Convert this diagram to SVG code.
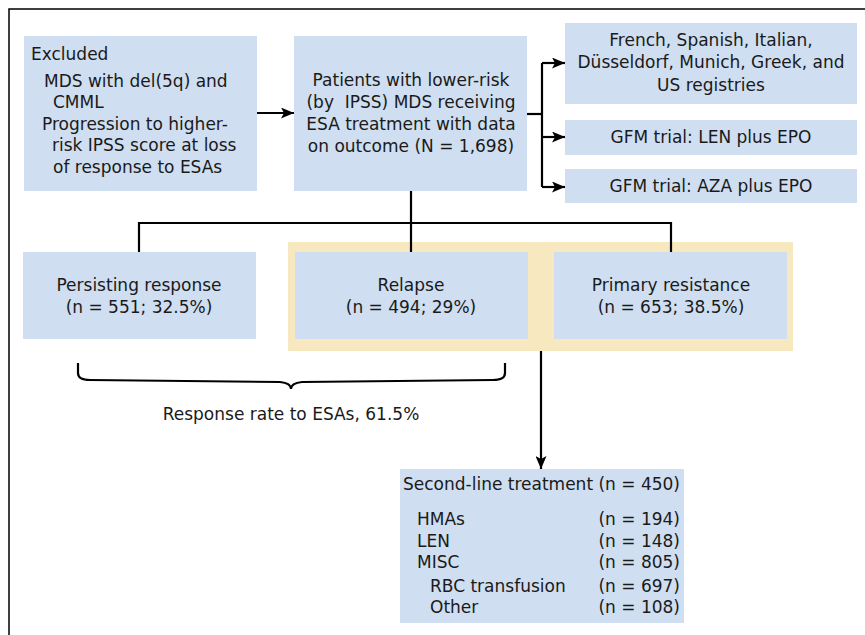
<svg xmlns="http://www.w3.org/2000/svg" width="865" height="635" viewBox="0 0 865 635">
<defs>
<style>
.box{fill:#cfdef0}
.hl{fill:#f7e8c0}
text{font-family:"DejaVu Sans","Liberation Sans",Arial,sans-serif;font-size:17px;fill:#1a1a1a}
.c{text-anchor:middle}
.r{text-anchor:end}
.ln{fill:none;stroke:#000;stroke-width:2.2}
</style>
<marker id="ah" viewBox="0 0 13 11" refX="13" refY="5.5" markerWidth="13" markerHeight="11" markerUnits="userSpaceOnUse" orient="auto">
<path d="M0,0 L13,5.5 L0,11 L3,5.5 Z" fill="#000"/>
</marker>
</defs>
<rect width="865" height="635" fill="#fff"/>
<path d="M9,635 L9,9 L865,9" fill="none" stroke="#000" stroke-width="1.5"/>

<g id="highlight"><rect class="hl" x="288" y="242" width="505" height="109"/></g>

<g id="excluded">
<rect class="box" x="24" y="36" width="233" height="155"/>
<text x="31" y="60">Excluded</text>
<text x="44" y="87">MDS with del(5q) and</text>
<text x="53" y="108">CMML</text>
<text x="42" y="130">Progression to higher-</text>
<text x="52" y="151">risk IPSS score at loss</text>
<text x="53" y="173">of response to ESAs</text>
</g>

<g id="patients">
<rect class="box" x="294" y="36" width="233" height="155"/>
<text class="c" x="411" y="86">Patients with lower-risk</text>
<text class="c" x="411" y="108" xml:space="preserve">(by  IPSS) MDS receiving</text>
<text class="c" x="411" y="130">ESA treatment with data</text>
<text class="c" x="411" y="152">on outcome (N = 1,698)</text>
</g>

<g id="registries">
<rect class="box" x="565" y="23" width="292" height="81"/>
<text class="c" x="711" y="46">French, Spanish, Italian,</text>
<text class="c" x="711" y="68">Düsseldorf, Munich, Greek, and</text>
<text class="c" x="711" y="91">US registries</text>
</g>

<g id="gfm-len">
<rect class="box" x="565" y="120" width="292" height="35"/>
<text class="c" x="711" y="143">GFM trial: LEN plus EPO</text>
</g>

<g id="gfm-aza">
<rect class="box" x="565" y="169" width="292" height="34"/>
<text class="c" x="711" y="192">GFM trial: AZA plus EPO</text>
</g>

<g id="persisting">
<rect class="box" x="23" y="252" width="233" height="87"/>
<text class="c" x="139" y="291">Persisting response</text>
<text class="c" x="139" y="313">(n = 551; 32.5%)</text>
</g>

<g id="relapse">
<rect class="box" x="295" y="252" width="233" height="87"/>
<text class="c" x="411" y="291">Relapse</text>
<text class="c" x="411" y="313">(n = 494; 29%)</text>
</g>

<g id="primary">
<rect class="box" x="554" y="252" width="233" height="87"/>
<text class="c" x="671" y="291">Primary resistance</text>
<text class="c" x="671" y="313">(n = 653; 38.5%)</text>
</g>

<g id="response-rate">
<path class="ln" d="M78,363 L78,373 Q78,380 90,380 L280,382 Q291,383 291,389 Q291,383 302,382 L493,380 Q505,380 505,373 L505,363" stroke-width="2"/>
<text class="c" x="291" y="420">Response rate to ESAs, 61.5%</text>
</g>

<g id="second-line">
<rect class="box" x="400" y="469" width="284" height="154"/>
<text x="403" y="490">Second-line treatment (n = 450)</text>
<text x="417" y="525">HMAs</text>
<text x="417" y="547">LEN</text>
<text x="417" y="568">MISC</text>
<text x="430" y="592">RBC transfusion</text>
<text x="430" y="613">Other</text>
<text class="r" x="680" y="525">(n = 194)</text>
<text class="r" x="680" y="547">(n = 148)</text>
<text class="r" x="680" y="568">(n = 805)</text>
<text class="r" x="680" y="592">(n = 697)</text>
<text class="r" x="680" y="613">(n = 108)</text>
</g>

<g id="connectors">
<line class="ln" x1="257" y1="113" x2="294" y2="113" marker-end="url(#ah)"/>
<path class="ln" d="M527,114 L542,114"/>
<path class="ln" d="M542,63 L542,187"/>
<path class="ln" d="M542,63 L565,63" marker-end="url(#ah)"/>
<path class="ln" d="M542,137 L565,137" marker-end="url(#ah)"/>
<path class="ln" d="M542,187 L565,187" marker-end="url(#ah)"/>
<path class="ln" d="M411,191 L411,252"/>
<path class="ln" d="M139,252 L139,223 L671,223 L671,252"/>
<path class="ln" d="M541,351 L541,469" marker-end="url(#ah)"/>
</g>
</svg>
